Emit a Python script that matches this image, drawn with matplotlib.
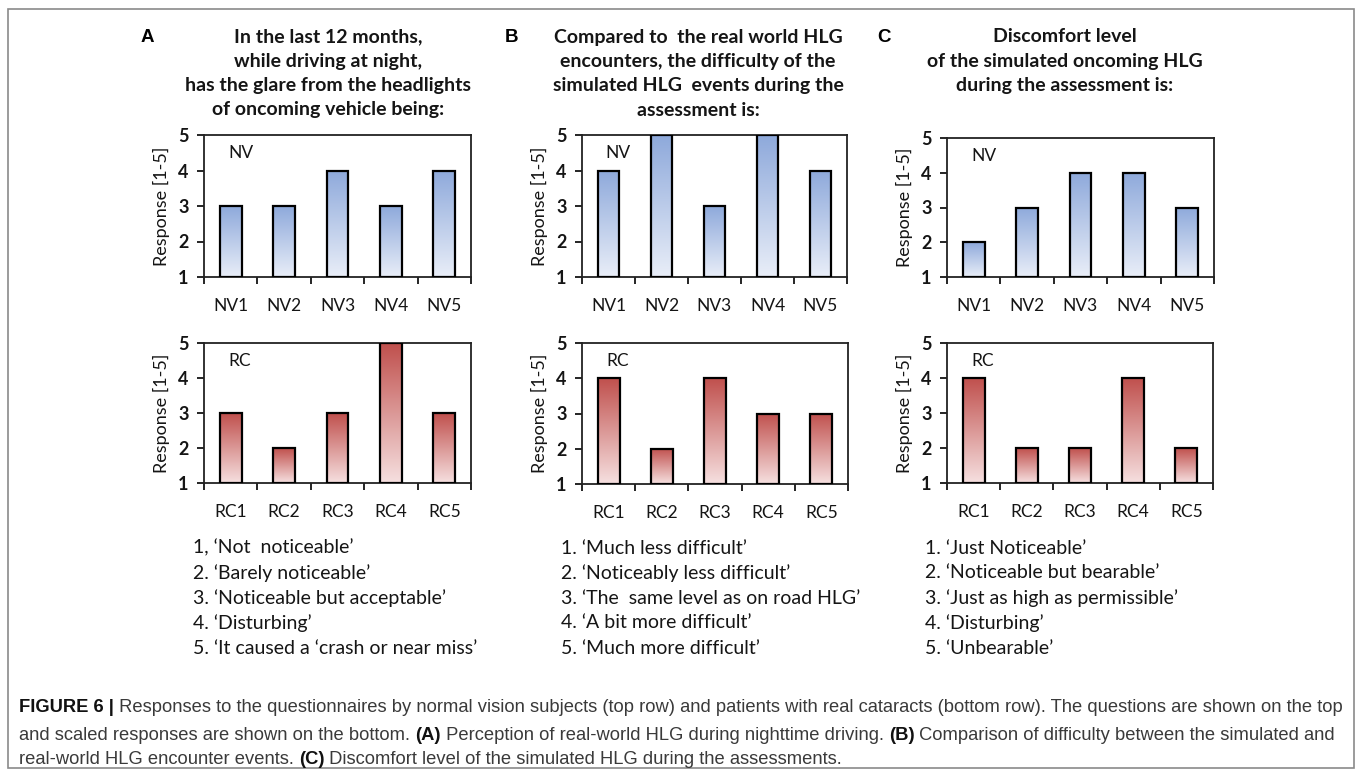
import numpy as np
import matplotlib
matplotlib.use("Agg")
import matplotlib.pyplot as plt
from matplotlib.patches import Rectangle
from matplotlib.colors import LinearSegmentedColormap

# ---------------- data ----------------
nv_labels = ["NV1", "NV2", "NV3", "NV4", "NV5"]
rc_labels = ["RC1", "RC2", "RC3", "RC4", "RC5"]

nv_A = [3, 3, 4, 3, 4]
rc_A = [3, 2, 3, 5, 3]
nv_B = [4, 5, 3, 5, 4]
rc_B = [4, 2, 4, 3, 3]
nv_C = [2, 3, 4, 4, 3]
rc_C = [4, 2, 2, 4, 2]

yticks = [1, 2, 3, 4, 5]

title_A = ["In the last 12 months,", "while driving at night,",
           "has the glare from the headlights", "of oncoming vehicle being:"]
title_B = ["Compared to  the real world HLG", "encounters, the difficulty of the",
           "simulated HLG  events during the", "assessment is:"]
title_C = ["Discomfort level", "of the simulated oncoming HLG",
           "during the assessment is:"]

scale_A = ["1, \u2018Not  noticeable\u2019",
           "2. \u2018Barely noticeable\u2019",
           "3. \u2018Noticeable but acceptable\u2019",
           "4. \u2018Disturbing\u2019",
           "5. \u2018It caused a \u2018crash or near miss\u2019"]
scale_B = ["1. \u2018Much less difficult\u2019",
           "2. \u2018Noticeably less difficult\u2019",
           "3. \u2018The  same level as on road HLG\u2019",
           "4. \u2018A bit more difficult\u2019",
           "5. \u2018Much more difficult\u2019"]
scale_C = ["1. \u2018Just Noticeable\u2019",
           "2. \u2018Noticeable but bearable\u2019",
           "3. \u2018Just as high as permissible\u2019",
           "4. \u2018Disturbing\u2019",
           "5. \u2018Unbearable\u2019"]

caption_lines = [
    " Responses to the questionnaires by normal vision subjects (top row) and patients with real cataracts (bottom row). The questions are shown on the top",
    "and scaled responses are shown on the bottom. ",
    "real-world HLG encounter events. ",
]

# ---------------- figure ----------------
W, H = 1357, 769
fig = plt.figure(figsize=(W / 100, H / 100), dpi=100)
fig.patch.set_facecolor("white")

UI = "Lato"
TXT = "#151515"


def fx(x):
    return x / W


def fy(y):
    return 1 - y / H


def add_ax(left, top, right, bottom):
    return fig.add_axes([fx(left), fy(bottom), fx(right) - fx(left), (bottom - top) / H])


blue_cmap = LinearSegmentedColormap.from_list("b", ["#e9eef8", "#8ea9db"])
red_cmap = LinearSegmentedColormap.from_list("r", ["#f6e0e0", "#c0504d"])


def draw_panel(ax, vals, labels, cmap, tag):
    x = np.arange(len(vals))
    heights = [v - 1 for v in vals]
    bars = ax.bar(x, heights, bottom=1, width=0.41, facecolor="none",
                  edgecolor="black", linewidth=1.6, zorder=3)
    grad = np.linspace(0, 1, 256).reshape(-1, 1)
    for b in bars:
        x0, y0 = b.get_x(), b.get_y()
        w, h = b.get_width(), b.get_height()
        im = ax.imshow(grad, cmap=cmap, origin="lower", aspect="auto",
                       extent=[x0, x0 + w, y0, y0 + h], zorder=2,
                       vmin=0, vmax=1)
        im.set_clip_path(b)
    ax.set_xlim(-0.5, len(vals) - 0.5)
    ax.set_ylim(1, 5)
    ax.set_yticks(yticks)
    ax.set_yticklabels([str(t) for t in yticks], fontfamily=UI,
                       fontweight="bold", fontsize=13, color=TXT)
    ax.set_xticks(x)
    ax.set_xticklabels(labels, fontfamily=UI, fontsize=12.5, color=TXT)
    ax.set_xticks(np.arange(-0.5, len(vals), 1.0), minor=True)
    ax.tick_params(axis="x", which="major", length=0, pad=15)
    ax.tick_params(axis="x", which="minor", length=5, width=1.2, direction="out")
    ax.tick_params(axis="y", which="major", length=5, width=1.2, direction="out", pad=6)
    for s in ax.spines.values():
        s.set_linewidth(1.3)
        s.set_color("#222222")
    ax.set_ylabel("Response [1-5]", fontfamily=UI, fontsize=13, color=TXT,
                  labelpad=6)
    ax.text(0.09, 0.87, tag, transform=ax.transAxes, fontfamily=UI,
            fontsize=12.5, color=TXT, ha="left", va="center")


# axes boxes (pixel coordinates: left, top, right, bottom)
panels = [
    ((204, 135, 471, 277), (204, 343, 471, 483), nv_A, rc_A),
    ((582, 135, 847, 277), (582, 343, 848, 484), nv_B, rc_B),
    ((947, 138, 1214, 277), (947, 343, 1213, 483), nv_C, rc_C),
]
for top_box, bot_box, nv, rc in panels:
    a1 = add_ax(*top_box)
    draw_panel(a1, nv, nv_labels, blue_cmap, "NV")
    a2 = add_ax(*bot_box)
    draw_panel(a2, rc, rc_labels, red_cmap, "RC")

# panel letters
for letter, px in [("A", 147), ("B", 512), ("C", 884)]:
    fig.text(fx(px), fy(37), letter, fontfamily="Liberation Sans",
             fontweight="bold", fontsize=13.5, ha="center", va="center", color="black")

# titles
title_ys = [37, 61, 86, 110]
for lines, cx in [(title_A, 328), (title_B, 698), (title_C, 1065)]:
    for line, y in zip(lines, title_ys):
        fig.text(fx(cx), fy(y), line, fontfamily=UI, fontweight="bold",
                 fontsize=14, ha="center", va="center", color=TXT)

# scale legends
legend_ys = [548, 573, 598, 623, 648]
for lines, lx in [(scale_A, 193), (scale_B, 561), (scale_C, 925)]:
    for line, y in zip(lines, legend_ys):
        fig.text(fx(lx), fy(y), line, fontfamily=UI, fontsize=14,
                 ha="left", va="center", color=TXT)

# caption
CAP = "Liberation Sans"
CAPC = "#3a3a3a"
cs = 13.25


def rich_line(y, parts):
    """parts: list of (text, bold)"""
    x = 19
    renderer = fig.canvas.get_renderer()
    for text, bold in parts:
        t = fig.text(fx(x), fy(y), text, fontfamily=CAP, fontsize=cs,
                     fontweight="bold" if bold else "normal",
                     color="#111111" if bold else CAPC, ha="left", va="center")
        bb = t.get_window_extent(renderer=renderer)
        x += bb.width


rich_line(708, [("FIGURE 6 |", True), (caption_lines[0], False)])
rich_line(735, [(caption_lines[1], False), ("(A)", True),
                (" Perception of real-world HLG during nighttime driving. ", False),
                ("(B)", True),
                (" Comparison of difficulty between the simulated and", False)])
rich_line(760, [(caption_lines[2], False), ("(C)", True),
                (" Discomfort level of the simulated HLG during the assessments.", False)])

# outer frame
fig.patches.append(Rectangle((fx(8), fy(768)), fx(1354) - fx(8), fy(9) - fy(768),
                             transform=fig.transFigure, fill=False,
                             edgecolor="#8a8a8a", linewidth=1.2))

fig.savefig("out.png", dpi=100, facecolor="white")
